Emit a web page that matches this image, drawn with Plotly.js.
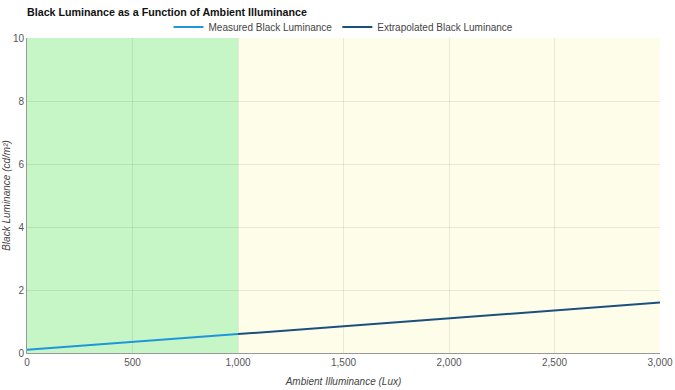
<!DOCTYPE html>
<html>
<head>
<meta charset="utf-8">
<script src="https://cdn.plot.ly/plotly-3.0.1.min.js"></script>
<style>html,body{margin:0;padding:0;background:#fff}#chart{width:675px;height:390px}</style>
</head>
<body>
<div id="chart"></div>
<script>
const measuredX = [0, 250, 500, 750, 1000];
const measuredY = [0.1, 0.225, 0.35, 0.475, 0.6];
const extrapX = [1000, 1500, 2000, 2500, 3000];
const extrapY = [0.6, 0.85, 1.1, 1.35, 1.6];
const xTicks = [0, 500, 1000, 1500, 2000, 2500, 3000];
const xTickLabels = ['0', '500', '1,000', '1,500', '2,000', '2,500', '3,000'];
const yTicks = [0, 2, 4, 6, 8, 10];
const regionGreen = [0, 1000];
const regionYellow = [1000, 3000];

const traces = [
  {x: measuredX, y: measuredY, type: 'scatter', mode: 'lines', name: 'Measured Black Luminance',
   line: {color: '#1e96dc', width: 2}},
  {x: extrapX, y: extrapY, type: 'scatter', mode: 'lines', name: 'Extrapolated Black Luminance',
   line: {color: '#1b4f7e', width: 2}}
];

const layout = {
  width: 675, height: 390,
  margin: {l: 27, r: 15, t: 38, b: 37, autoexpand: false},
  paper_bgcolor: '#fff', plot_bgcolor: '#fff',
  font: {family: 'Liberation Sans, Arial, sans-serif', size: 10, color: '#555'},
  title: {text: '<b>Black Luminance as a Function of Ambient Illuminance</b>', xref: 'paper', x: 0, xanchor: 'left',
          yref: 'container', y: 0.969, yanchor: 'middle',
          font: {size: 10.7, color: '#111'}},
  showlegend: true,
  legend: {orientation: 'h', xref: 'paper', x: 0.5, xanchor: 'center', yref: 'container', y: 0.931, yanchor: 'middle',
           font: {size: 10, color: '#444'}, bgcolor: 'rgba(0,0,0,0)'},
  xaxis: {range: [0, 3000], tickvals: xTicks, ticktext: xTickLabels, showgrid: true, gridcolor: 'rgba(0,0,0,0.08)',
          zeroline: false, showline: true, linecolor: '#999', linewidth: 1, ticks: '',
          title: {text: '<i>Ambient Illuminance (Lux)</i>', font: {size: 10, color: '#444'}, standoff: 10},
          tickfont: {size: 10, color: '#555'}},
  yaxis: {range: [0, 10], tickvals: yTicks, showgrid: true, gridcolor: 'rgba(0,0,0,0.08)',
          zeroline: false, showline: true, linecolor: '#999', linewidth: 1, ticks: '',
          title: {text: '<i>Black Luminance (cd/m²)</i>', font: {size: 10, color: '#444'}, standoff: 0},
          tickfont: {size: 10, color: '#555'}},
  shapes: [
    {type: 'rect', xref: 'x', yref: 'paper', x0: regionGreen[0], x1: regionGreen[1], y0: 0, y1: 1,
     fillcolor: '#c6f6c6', line: {width: 0}, layer: 'below'},
    {type: 'rect', xref: 'x', yref: 'paper', x0: regionYellow[0], x1: regionYellow[1], y0: 0, y1: 1,
     fillcolor: '#fdfdea', line: {width: 0}, layer: 'below'}
  ]
};

Plotly.newPlot('chart', traces, layout, {displayModeBar: false, responsive: false});
</script>
</body>
</html>
